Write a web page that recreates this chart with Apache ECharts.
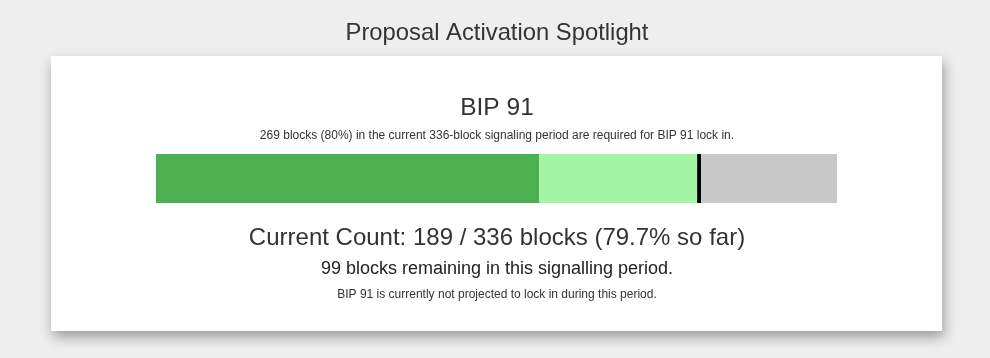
<!DOCTYPE html>
<html>
<head>
<meta charset="utf-8">
<script src="https://cdn.jsdelivr.net/npm/echarts@6/dist/echarts.min.js"></script>
<style>
html,body{margin:0;padding:0;background:#eeeeee;}
#chart{width:990px;height:358px;}
</style>
</head>
<body>
<div id="chart"></div>
<script>
// Data
const totalBlocks = 336;
const categories = ['BIP 91'];
const signaledBlocks = [189];      // dark green: blocks signaling so far
const projectedBlocks = [78];      // light green: projected additional blocks
const thresholdMarker = [2];       // black marker just before the 269 threshold
const remainingToEnd = [67];       // grey: rest of the period
const texts = {
  pageTitle: 'Proposal Activation Spotlight',
  name: 'BIP 91',
  requirement: '269 blocks (80%) in the current 336-block signaling period are required for BIP 91 lock in.',
  count: 'Current Count: 189 / 336 blocks (79.7% so far)',
  remaining: '99 blocks remaining in this signalling period.',
  projection: 'BIP 91 is currently not projected to lock in during this period.'
};

const chart = echarts.init(document.getElementById('chart'), null, {renderer: 'canvas'});
const font = '"Liberation Sans", Arial, Helvetica, sans-serif';
const cx = 497;
function txt(t, y, size, color) {
  return {type: 'text', z: 10, style: {text: t, x: cx, y: y, align: 'center', verticalAlign: 'middle',
    font: 'normal ' + size + 'px ' + font, fill: color}};
}
function bar(name, data, color) {
  return {type: 'bar', name: name, stack: 'total', data: data, barWidth: 49, silent: true,
    itemStyle: {color: color}, z: 20, animation: false};
}
chart.setOption({
  backgroundColor: '#eeeeee',
  animation: false,
  grid: {left: 156, top: 154, width: 681, height: 49, containLabel: false},
  xAxis: {type: 'value', min: 0, max: totalBlocks, show: false},
  yAxis: {type: 'category', data: categories, show: false},
  graphic: [
    {type: 'rect', z: 1, shape: {x: 51, y: 56, width: 891, height: 275},
      style: {fill: '#ffffff', shadowBlur: 12, shadowOffsetX: 2, shadowOffsetY: 6, shadowColor: 'rgba(0,0,0,0.35)'}},
    txt(texts.pageTitle, 33, 23.8, '#333333'),
    txt(texts.name, 108, 24.5, '#333333'),
    txt(texts.requirement, 136, 12, '#333333'),
    txt(texts.count, 238, 24, '#333333'),
    txt(texts.remaining, 269, 18, '#222222'),
    txt(texts.projection, 295, 12, '#333333')
  ],
  series: [
    bar('Signaled', signaledBlocks, '#4caf50'),
    bar('Projected', projectedBlocks, '#a3f5a3'),
    bar('Threshold', thresholdMarker, '#000000'),
    bar('Remaining', remainingToEnd, '#c8c8c8')
  ]
});
</script>
</body>
</html>
